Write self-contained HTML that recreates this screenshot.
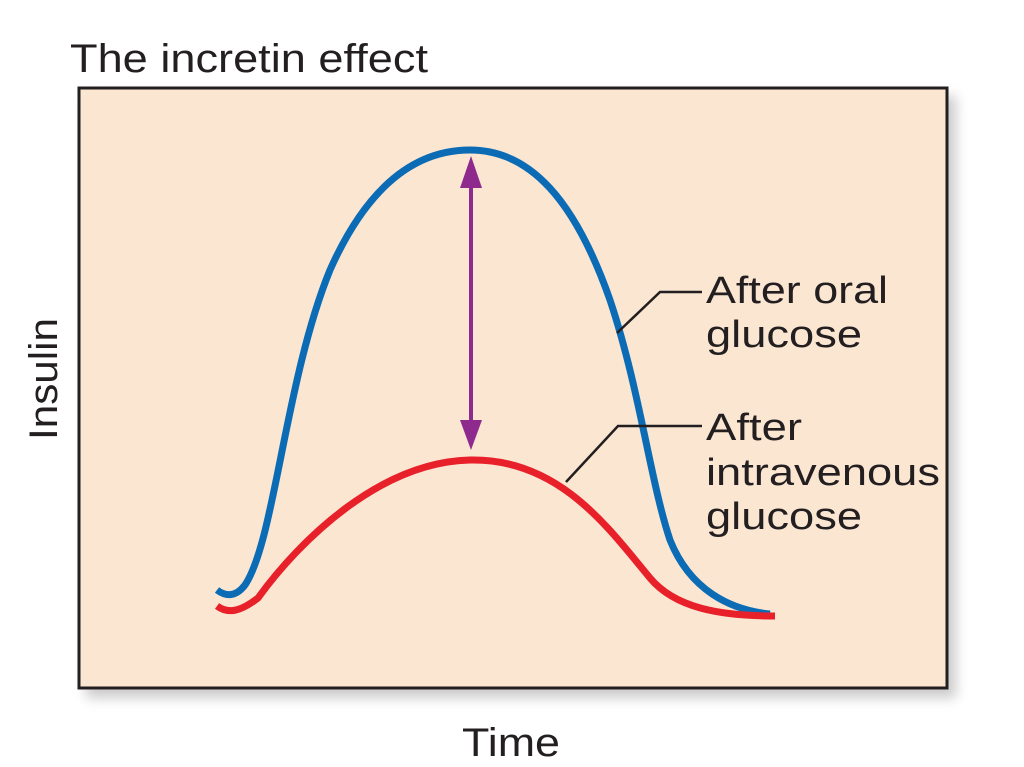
<!DOCTYPE html>
<html><head><style>
body{margin:0;background:#fff;width:1024px;height:767px;overflow:hidden}
svg{display:block}
text{font-family:"Liberation Sans",sans-serif;fill:#231f20}
</style></head><body>
<svg width="1024" height="767" viewBox="0 0 1024 767">
<defs><filter id="s" x="-5%" y="-5%" width="115%" height="115%"><feGaussianBlur stdDeviation="6"/></filter></defs>
<rect x="86" y="96" width="870" height="602" fill="#999" opacity="0.5" filter="url(#s)"/>
<rect x="79" y="88" width="868" height="600" fill="#fbe6d2" stroke="#231f20" stroke-width="3"/>
<text x="70" y="72" font-size="40" textLength="358" lengthAdjust="spacingAndGlyphs">The incretin effect</text>
<text x="462" y="756" font-size="40" textLength="98" lengthAdjust="spacingAndGlyphs">Time</text>
<text transform="translate(57,379) rotate(-90)" font-size="40" text-anchor="middle" textLength="122" lengthAdjust="spacingAndGlyphs">Insulin</text>
<path d="M217,590 C225,596 235,598 245,585 C275,540 285,380 330,270 C370,180 420,150 470,150 C530,150 575,200 610,300 C640,390 650,480 670,540 C690,590 730,610 770,614" fill="none" stroke="#0b6cb5" stroke-width="7"/>
<path d="M217,606 C228,614 240,612 258,598 C300,540 380,462 470,460 C560,458 610,530 650,578 C675,608 720,616 775,616" fill="none" stroke="#e8202a" stroke-width="7"/>
<line x1="471" y1="178" x2="471" y2="425" stroke="#8e2a8d" stroke-width="4"/>
<polygon points="471,156 460,188 482,188" fill="#8e2a8d"/>
<polygon points="471,450 460,420 482,420" fill="#8e2a8d"/>
<polyline points="617,333 660,292 702,292" fill="none" stroke="#231f20" stroke-width="2.5"/>
<polyline points="566,482 618,426 702,426" fill="none" stroke="#231f20" stroke-width="2.5"/>
<text x="706" y="303" font-size="38" textLength="182" lengthAdjust="spacingAndGlyphs">After oral</text>
<text x="706" y="347" font-size="38" textLength="156" lengthAdjust="spacingAndGlyphs">glucose</text>
<text x="706" y="440" font-size="38" textLength="96" lengthAdjust="spacingAndGlyphs">After</text>
<text x="706" y="485" font-size="38" textLength="234" lengthAdjust="spacingAndGlyphs">intravenous</text>
<text x="706" y="529" font-size="38" textLength="156" lengthAdjust="spacingAndGlyphs">glucose</text>
</svg>
</body></html>
